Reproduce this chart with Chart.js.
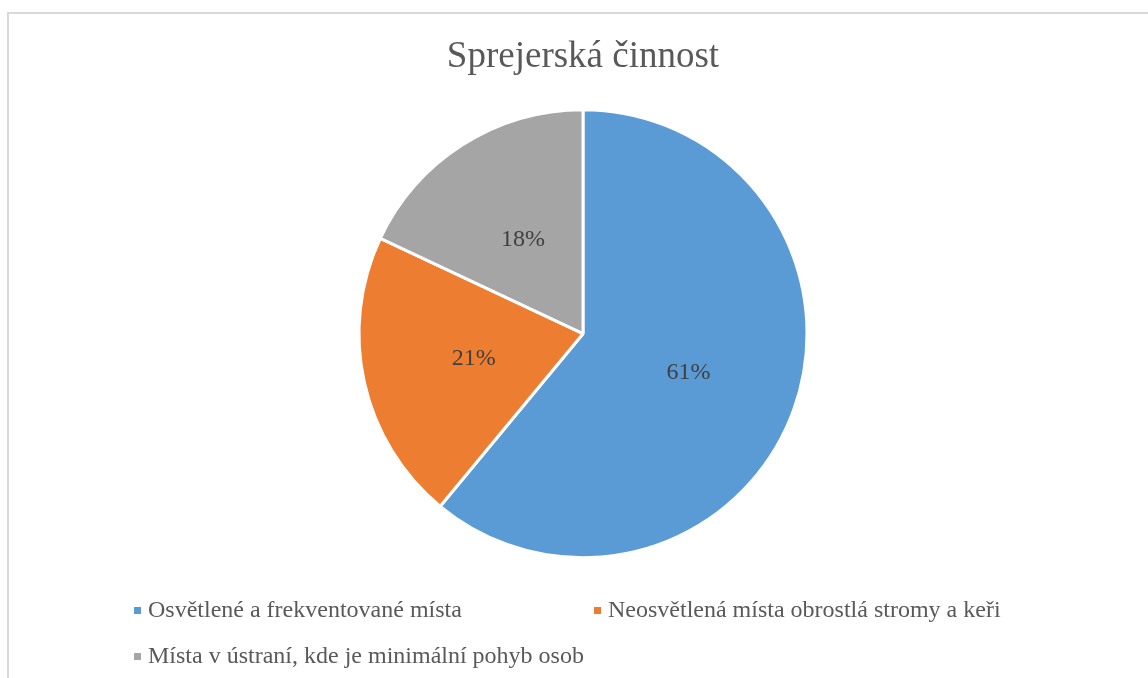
<!DOCTYPE html>
<html>
<head>
<meta charset="utf-8">
<script src="https://cdn.jsdelivr.net/npm/chart.js@4"></script>
<style>
  html, body { margin: 0; padding: 0; background: #ffffff; }
  #wrap { width: 1148px; height: 678px; position: relative; }
</style>
</head>
<body>
<div id="wrap"><canvas id="pie"></canvas></div>
<script>
// --- Data ---
var categories = [
  'Osvětlené a frekventované místa',
  'Neosvětlená místa obrostlá stromy a keři',
  'Místa v ústraní, kde je minimální pohyb osob'
];
var shares = [61, 21, 18];
var sliceColors = ['#5B9BD5', '#ED7D31', '#A5A5A5'];

var serif = '"Liberation Serif", "Times New Roman", serif';

// Outer frame (top and left edge only, as in the source)
var framePlugin = {
  id: 'frame',
  beforeDraw: function (chart) {
    var cx = chart.ctx;
    cx.save();
    cx.strokeStyle = '#d9d9d9';
    cx.lineWidth = 2;
    cx.beginPath();
    cx.moveTo(8, chart.height);
    cx.lineTo(8, 13);
    cx.lineTo(chart.width, 13);
    cx.stroke();
    cx.restore();
  }
};

// Percent labels at the middle of each slice
var sliceLabels = {
  id: 'sliceLabels',
  afterDatasetsDraw: function (chart) {
    var cx = chart.ctx;
    var meta = chart.getDatasetMeta(0);
    cx.save();
    cx.font = '24px ' + serif;
    cx.fillStyle = '#404040';
    cx.textAlign = 'center';
    cx.textBaseline = 'middle';
    meta.data.forEach(function (arc, i) {
      var p = arc.getCenterPoint();
      cx.fillText(shares[i] + '%', p.x, p.y + 1);
    });
    cx.restore();
  }
};

// Two-column legend under the pie
var legendPlugin = {
  id: 'legendGrid',
  afterDraw: function (chart) {
    var cx = chart.ctx;
    var spots = [[134, 617], [594, 617], [134, 663]];
    cx.save();
    cx.font = '24px ' + serif;
    cx.textBaseline = 'alphabetic';
    cx.textAlign = 'left';
    categories.forEach(function (label, i) {
      var s = spots[i];
      cx.fillStyle = sliceColors[i];
      cx.fillRect(s[0], s[1] - 10, 7, 7);
      cx.fillStyle = '#595959';
      cx.fillText(label, s[0] + 14, s[1]);
    });
    cx.restore();
  }
};

new Chart(document.getElementById('pie'), {
  type: 'pie',
  data: {
    labels: categories,
    datasets: [{
      data: shares,
      backgroundColor: sliceColors,
      borderColor: '#ffffff',
      borderWidth: 3
    }]
  },
  options: {
    responsive: true,
    maintainAspectRatio: false,
    animation: false,
    radius: 224,
    layout: { padding: { left: 18, right: 0, top: 0, bottom: 100 } },
    plugins: {
      legend: { display: false },
      tooltip: { enabled: false },
      title: {
        display: true,
        text: 'Sprejerská činnost',
        color: '#595959',
        font: { family: serif, size: 37, weight: 'normal', lineHeight: 1.2 },
        padding: { top: 35, bottom: 10 }
      }
    }
  },
  plugins: [framePlugin, sliceLabels, legendPlugin]
});
</script>
</body>
</html>
